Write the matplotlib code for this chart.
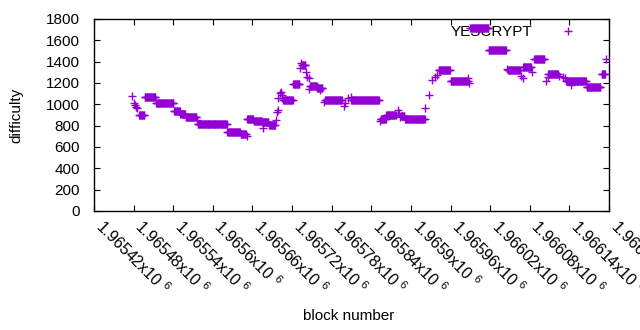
#!/usr/bin/env python3
"""Per-block difficulty of the YESCRYPT chain, gnuplot-like look."""

import matplotlib
matplotlib.use("Agg")
import matplotlib.pyplot as plt
import numpy as np

# difficulty read off the picture as runs of consecutive blocks:
# every block from run_start to run_end (inclusive) has run_difficulty
run_start = [1965477, 1965480, 1965482, 1965484, 1965485, 1965488, 1965497,
             1965514, 1965541, 1965551, 1965559, 1965576, 1965577, 1965622,
             1965642, 1965651, 1965652, 1965662, 1965675, 1965676, 1965685,
             1965695, 1965697, 1965698, 1965699, 1965701, 1965703, 1965704,
             1965705, 1965707, 1965722, 1965732, 1965734, 1965735, 1965741,
             1965743, 1965745, 1965746, 1965747, 1965758, 1965762, 1965763,
             1965768, 1965770, 1965798, 1965800, 1965805, 1965809, 1965810,
             1965853, 1965854, 1965863, 1965880, 1965882, 1965884, 1965885,
             1965891, 1965922, 1965928, 1965932, 1965937, 1965939, 1965942,
             1965960, 1965987, 1965988, 1965990, 1966018, 1966045, 1966047,
             1966067, 1966069, 1966070, 1966083, 1966087, 1966104, 1966107,
             1966108, 1966125, 1966130, 1966133, 1966135, 1966142, 1966166,
             1966189, 1966196]
run_end = [1965477, 1965480, 1965482, 1965484, 1965485, 1965496, 1965513,
           1965540, 1965550, 1965558, 1965575, 1965576, 1965621, 1965641,
           1965650, 1965651, 1965661, 1965674, 1965684, 1965676, 1965694,
           1965695, 1965697, 1965698, 1965699, 1965701, 1965703, 1965704,
           1965705, 1965721, 1965731, 1965732, 1965734, 1965740, 1965741,
           1965743, 1965745, 1965746, 1965757, 1965761, 1965762, 1965766,
           1965768, 1965795, 1965798, 1965800, 1965805, 1965809, 1965851,
           1965853, 1965862, 1965877, 1965880, 1965882, 1965884, 1965890,
           1965921, 1965922, 1965928, 1965932, 1965937, 1965939, 1965959,
           1965986, 1965987, 1965988, 1966017, 1966044, 1966045, 1966065,
           1966067, 1966069, 1966082, 1966083, 1966102, 1966104, 1966107,
           1966123, 1966125, 1966130, 1966133, 1966165, 1966142, 1966187,
           1966194, 1966196]
run_difficulty = [1078, 1015, 994, 978, 963, 897, 1066,
                  1010, 936, 906, 878, 855, 820, 738,
                  722, 703, 860, 846, 830, 781, 806,
                  853, 925, 947, 1056, 1103, 1119, 1088,
                  1056, 1037, 1186, 1338, 1384, 1372, 1306,
                  1259, 1245, 1145, 1176, 1152, 1134, 1152,
                  1025, 1037, 984, 1009, 1056, 1072, 1037,
                  844, 862, 898, 947, 916, 880, 890,
                  866, 962, 1088, 1228, 1253, 1275, 1318,
                  1216, 1244, 1200, 1711, 1505, 1331, 1318,
                  1266, 1244, 1350, 1306, 1423, 1215, 1255,
                  1285, 1266, 1252, 1244, 1223, 1178, 1166,
                  1288, 1422]

x_ticks = list(range(1965420, 1966201, 60))
y_ticks = list(range(0, 1801, 200))

PURPLE = "#9400d3"


def expand_runs():
    blocks = np.concatenate([np.arange(a, b + 1)
                             for a, b in zip(run_start, run_end)])
    diffs = np.concatenate([np.full(b - a + 1, d, dtype=float)
                            for a, b, d in zip(run_start, run_end,
                                               run_difficulty)])
    return blocks, diffs


def plot():
    plt.rcParams["font.family"] = ["Liberation Sans", "DejaVu Sans"]
    plt.rcParams["font.size"] = 11
    plt.rcParams["mathtext.fontset"] = "custom"
    plt.rcParams["mathtext.rm"] = "Liberation Sans"

    fig = plt.figure(figsize=(6.4, 3.3), dpi=100)
    ax = fig.add_axes((94 / 640, 1 - 211 / 330, 515 / 640, 192 / 330))

    blocks, diffs = expand_runs()
    ax.plot(blocks, diffs, ls="none", marker="+", ms=5.4, mew=1.0,
            color=PURPLE, label="YESCRYPT", zorder=3)

    ax.set_xlim(x_ticks[0], x_ticks[-1])
    ax.set_ylim(0, 1800)
    ax.set_xticks(x_ticks)
    # baseline anchoring puts the start of the rotated text at the tick
    ax.set_xticklabels([f"{v / 1e6:g}x10 $^{{6}}$" for v in x_ticks],
                       rotation=-45, ha="left", va="baseline",
                       rotation_mode="anchor", fontsize=11.5)
    ax.set_yticks(y_ticks)
    ax.tick_params(direction="in", length=4, width=0.8, top=True,
                   right=True, colors="black")
    ax.tick_params(axis="y", pad=10)
    ax.tick_params(axis="x", pad=12)
    for sp in ax.spines.values():
        sp.set_linewidth(1.0)

    leg = ax.legend(loc="upper right", bbox_to_anchor=(0.976, 1.04),
                    frameon=False, markerfirst=False, handletextpad=1.3,
                    borderpad=0.4, handlelength=2.0)
    leg.set_zorder(1)

    fig.text(16 / 640, 1 - 115 / 330, "difficulty", rotation=90,
             ha="center", va="center")
    fig.text(349 / 640, 1 - 316 / 330, "block number",
             ha="center", va="center")

    fig.savefig("out.png", dpi=100, facecolor="white")
    plt.close(fig)


def main():
    plot()


if __name__ == "__main__":
    main()
